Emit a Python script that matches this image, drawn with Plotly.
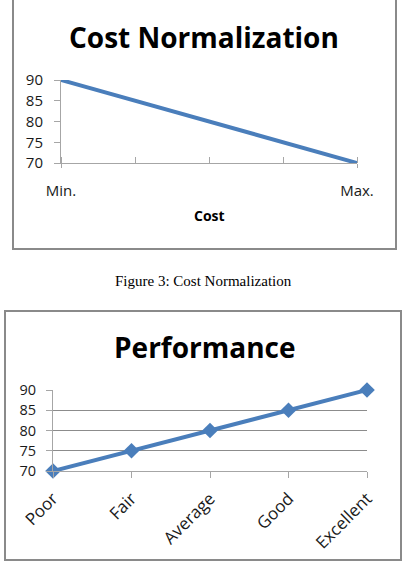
import plotly.graph_objects as go

# ---- data ----
cost_positions = [0, 1, 2, 3, 4]
cost_labels = ["Min.", "", "", "", "Max."]
cost_values = [90, 85, 80, 75, 70]

perf_categories = ["Poor", "Fair", "Average", "Good", "Excellent"]
perf_values = [70, 75, 80, 85, 90]

y_ticks = [70, 75, 80, 85, 90]

W, H = 404, 566
BLUE = "#4A7EBB"
AXIS = "#A6A6A6"
GRID = "#8C8C8C"
FONT = "Open Sans"


def px(x):
    return x / W


def py(y):
    return 1 - y / H


fig = go.Figure()

fig.add_trace(go.Scatter(
    x=cost_positions, y=cost_values, mode="lines",
    line=dict(color=BLUE, width=4), xaxis="x", yaxis="y",
    showlegend=False, cliponaxis=False))

fig.add_trace(go.Scatter(
    x=perf_categories, y=perf_values, mode="lines+markers",
    line=dict(color=BLUE, width=4),
    marker=dict(symbol="diamond", size=12, color=BLUE),
    xaxis="x2", yaxis="y2", showlegend=False, cliponaxis=False))

fig.update_layout(
    width=W, height=H, autosize=False,
    margin=dict(l=0, r=0, t=0, b=0, pad=0, autoexpand=False),
    paper_bgcolor="white", plot_bgcolor="white",
    xaxis=dict(
        domain=[px(61), px(357)], range=[0, 4], anchor="y", automargin=False,
        tickmode="array", tickvals=cost_positions, ticktext=cost_labels,
        ticks="outside", ticklen=4, tickcolor=AXIS, tickwidth=1,
        minor=dict(tickmode="array", tickvals=cost_positions, ticks="inside",
                   ticklen=6, tickcolor=AXIS, tickwidth=1),
        showline=True, linecolor=AXIS, linewidth=1, showgrid=False,
        zeroline=False, tickfont=dict(family=FONT, size=15, color="#1a1a1a"),
        ticklabelstandoff=10,
    ),
    yaxis=dict(
        domain=[py(163), py(80)], range=[70, 90], anchor="x", automargin=False,
        tickmode="array", tickvals=y_ticks,
        ticks="outside", ticklen=6, tickcolor=AXIS,
        showline=True, linecolor=AXIS, linewidth=1, showgrid=False,
        zeroline=False, tickfont=dict(family=FONT, size=15, color="#1a1a1a"),
        ticklabelstandoff=8,
    ),
    xaxis2=dict(
        domain=[px(53), px(367)], range=[0, 4], anchor="y2", automargin=False,
        type="category", categoryorder="array", categoryarray=perf_categories,
        ticks="outside", ticklen=6, tickcolor=AXIS,
        showline=True, linecolor=AXIS, linewidth=1, showgrid=False,
        zeroline=False, tickangle=-45,
        tickfont=dict(family=FONT, size=17, color="#1a1a1a"),
        ticklabelstandoff=4,
    ),
    yaxis2=dict(
        domain=[py(471), py(390)], range=[70, 90], anchor="x2", automargin=False,
        tickmode="array", tickvals=y_ticks,
        ticks="outside", ticklen=6, tickcolor=AXIS,
        showline=True, linecolor=AXIS, linewidth=1,
        showgrid=True, gridcolor=GRID, gridwidth=1,
        zeroline=False, tickfont=dict(family=FONT, size=14.5, color="#1a1a1a"),
        ticklabelstandoff=7,
    ),
)

# chart frames
fig.add_shape(type="rect", xref="paper", yref="paper",
              x0=px(13), x1=px(396), y0=py(249), y1=py(-5),
              line=dict(color="#8A8A8A", width=2), layer="below")
fig.add_shape(type="rect", xref="paper", yref="paper",
              x0=px(5), x1=px(401), y0=py(560), y1=py(311),
              line=dict(color="#8A8A8A", width=2), layer="below")

annotations = [
    dict(text="<b>Cost Normalization</b>", x=px(204), y=py(37),
         font=dict(family=FONT, size=28, color="black")),
    dict(text="<b>Cost</b>", x=px(209), y=py(215),
         font=dict(family=FONT, size=14, color="black")),
    dict(text="Figure 3: Cost Normalization", x=px(203), y=py(281),
         font=dict(family="Liberation Serif", size=15, color="black")),
    dict(text="<b>Performance</b>", x=px(204), y=py(347),
         font=dict(family=FONT, size=28, color="black")),
]
for a in annotations:
    fig.add_annotation(xref="paper", yref="paper", showarrow=False,
                       xanchor="center", yanchor="middle", **a)

fig.write_html("out.html")
